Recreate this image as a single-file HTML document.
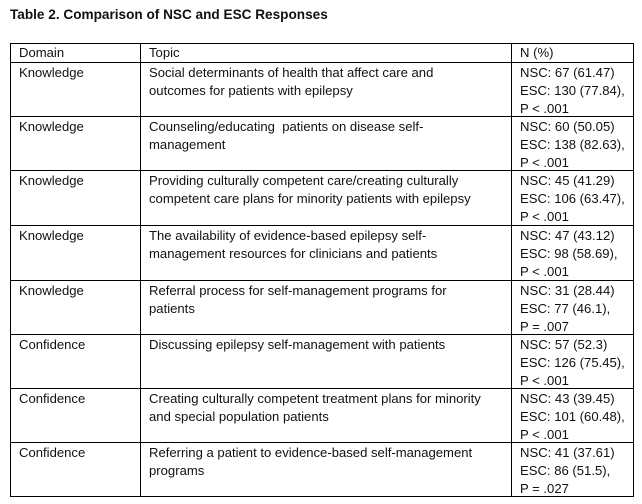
<!DOCTYPE html>
<html><head><meta charset="utf-8"><style>
body{margin:0;width:642px;height:504px;background:#fff;position:relative;font-family:"Liberation Sans",sans-serif;color:#111;overflow:hidden}
.t{position:absolute;left:10px;top:7px;font-weight:bold;font-size:13.6px}
.h{position:absolute;background:#000;height:1px;left:10px;width:624px}
.v{position:absolute;background:#000;width:1px;top:43px;height:454px}
.c{position:absolute;font-size:13.1px;line-height:18px;white-space:nowrap}
</style></head><body>
<div class="t">Table 2. Comparison of NSC and ESC Responses</div>
<div class="h" style="top:43px"></div>
<div class="h" style="top:62px"></div>
<div class="h" style="top:116px"></div>
<div class="h" style="top:170px"></div>
<div class="h" style="top:225px"></div>
<div class="h" style="top:280px"></div>
<div class="h" style="top:334px"></div>
<div class="h" style="top:388px"></div>
<div class="h" style="top:442px"></div>
<div class="h" style="top:496px"></div>
<div class="v" style="left:10px"></div>
<div class="v" style="left:140px"></div>
<div class="v" style="left:511px"></div>
<div class="v" style="left:633px"></div>

<div class="c" style="left:19px;top:44px">Domain</div>
<div class="c" style="left:149px;top:44px">Topic</div>
<div class="c" style="left:520px;top:44px">N (%)</div>

<div class="c" style="left:19px;top:64px">Knowledge</div>
<div class="c" style="left:149px;top:64px">Social determinants of health that affect care and<br>outcomes for patients with epilepsy</div>
<div class="c" style="left:520px;top:64px">NSC: 67 (61.47)<br>ESC: 130 (77.84),<br>P &lt; .001</div>

<div class="c" style="left:19px;top:118px">Knowledge</div>
<div class="c" style="left:149px;top:118px">Counseling/educating&nbsp; patients on disease self-<br>management</div>
<div class="c" style="left:520px;top:118px">NSC: 60 (50.05)<br>ESC: 138 (82.63),<br>P &lt; .001</div>

<div class="c" style="left:19px;top:172px">Knowledge</div>
<div class="c" style="left:149px;top:172px">Providing culturally competent care/creating culturally<br>competent care plans for minority patients with epilepsy</div>
<div class="c" style="left:520px;top:172px">NSC: 45 (41.29)<br>ESC: 106 (63.47),<br>P &lt; .001</div>

<div class="c" style="left:19px;top:227px">Knowledge</div>
<div class="c" style="left:149px;top:227px">The availability of evidence-based epilepsy self-<br>management resources for clinicians and patients</div>
<div class="c" style="left:520px;top:227px">NSC: 47 (43.12)<br>ESC: 98 (58.69),<br>P &lt; .001</div>

<div class="c" style="left:19px;top:282px">Knowledge</div>
<div class="c" style="left:149px;top:282px">Referral process for self-management programs for<br>patients</div>
<div class="c" style="left:520px;top:282px">NSC: 31 (28.44)<br>ESC: 77 (46.1),<br>P = .007</div>

<div class="c" style="left:19px;top:336px">Confidence</div>
<div class="c" style="left:149px;top:336px">Discussing epilepsy self-management with patients</div>
<div class="c" style="left:520px;top:336px">NSC: 57 (52.3)<br>ESC: 126 (75.45),<br>P &lt; .001</div>

<div class="c" style="left:19px;top:390px">Confidence</div>
<div class="c" style="left:149px;top:390px">Creating culturally competent treatment plans for minority<br>and special population patients</div>
<div class="c" style="left:520px;top:390px">NSC: 43 (39.45)<br>ESC: 101 (60.48),<br>P &lt; .001</div>

<div class="c" style="left:19px;top:444px">Confidence</div>
<div class="c" style="left:149px;top:444px">Referring a patient to evidence-based self-management<br>programs</div>
<div class="c" style="left:520px;top:444px">NSC: 41 (37.61)<br>ESC: 86 (51.5),<br>P = .027</div>
</body></html>
